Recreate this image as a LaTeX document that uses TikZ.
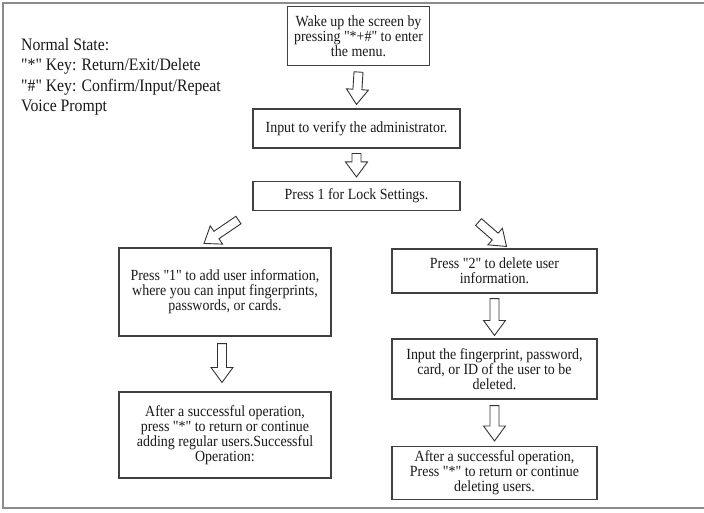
\documentclass[tikz,border=0pt]{standalone}
\usepackage{fontspec}
\setmainfont{Liberation Serif}[Ligatures=TeXOff,FakeStretch=0.9]
\usetikzlibrary{calc}

\begin{document}
\begin{tikzpicture}[x=1pt,y=1pt,
  box/.style={draw=black!75,line width=1.1pt,align=center,inner sep=0pt,
    text=black!90,font=\fontsize{15.5}{15}\selectfont},
  hollow/.style={draw=black!80,fill=white,line width=0.9pt,
    to path={let \p1=($(\tikztotarget)-(\tikztostart)$),
                 \n1={atan2(\y1,\x1)},\n2={veclen(\x1,\y1)-15pt} in
      ($(\tikztostart)+(\n1+90:4.5pt)$) -- ++(\n1:\n2) -- ++(\n1+90:6.5pt)
      -- (\tikztotarget)
      -- ($(\tikztostart)+(\n1:\n2)+(\n1-90:11pt)$) -- ++(\n1+90:6.5pt)
      -- ($(\tikztostart)+(\n1-90:4.5pt)$) -- cycle}}]
\useasboundingbox (0,0) rectangle (704,-513);
\fill[white] (0,0) rectangle (704,-513);
\draw[black!45,line width=1.5pt] (704,-3) -- (3,-3) -- (3,-508) -- (704,-508);

\node[anchor=north west,align=left,text=black!90,inner sep=0pt,
  font=\fontsize{17.5}{20.5}\selectfont] (legend) at (21,-38)
  {Normal State:\\"*" Key: Return/Exit/Delete\\"\#" Key: Confirm/Input/Repeat\\Voice Prompt};

\node[box,minimum width=142,minimum height=59] (wake) at (358.5,-36)
  {Wake up the screen by\\pressing "*+\#" to enter\\the menu.};
\node[box,minimum width=207,minimum height=39] (verify) at (356.5,-128.5)
  {Input to verify the administrator.};
\node[box,minimum width=207,minimum height=29] (lockset) at (356.5,-196)
  {Press 1 for Lock Settings.};
\node[box,minimum width=212,minimum height=88] (adduser) at (225,-292)
  {Press "1" to add user information,\\where you can input fingerprints,\\passwords, or cards.};
\node[box,minimum width=205,minimum height=44] (deluser) at (494.5,-271)
  {Press "2" to delete user\\information.};
\node[box,minimum width=205,minimum height=60] (inputid) at (494.5,-369)
  {Input the fingerprint, password,\\card, or ID of the user to be\\deleted.};
\node[box,minimum width=212,minimum height=86] (addok) at (225,-435)
  {After a successful operation,\\press "*" to return or continue\\adding regular users.Successful\\Operation:};
\node[box,minimum width=205,minimum height=53] (delok) at (494.5,-473)
  {After a successful operation,\\Press "*" to return or continue\\deleting users.};

% block arrows between the steps
\draw[hollow] ([yshift=-6pt]wake.south) to ([yshift=4pt]verify.north);
\draw[hollow] ([yshift=-5pt]verify.south) to ([yshift=4pt]lockset.north);
\draw[hollow] ([shift={(-14,-9)}]lockset.south west) to ([shift={(-21,4)}]adduser.north);
\draw[hollow] ([shift={(18,-11)}]lockset.south east) to ([shift={(12,2)}]deluser.north);
\draw[hollow] ([yshift=-5pt]deluser.south) to ([yshift=3pt]inputid.north);
\draw[hollow] ([yshift=-6pt]inputid.south) to ([yshift=5pt]delok.north);
\draw[hollow] ([shift={(-3,-7)}]adduser.south) to ([shift={(-3,9)}]addok.north);
\end{tikzpicture}
\end{document}
